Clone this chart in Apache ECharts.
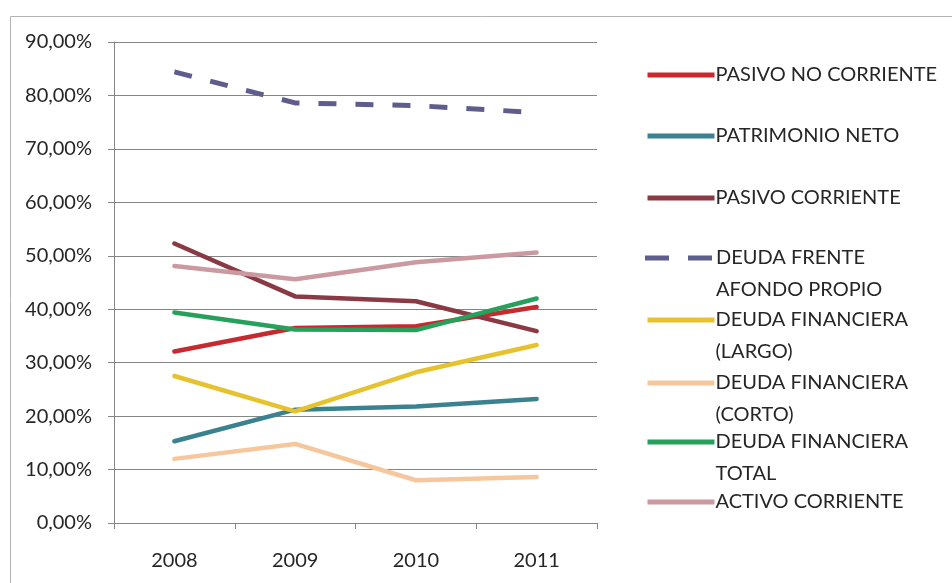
<!DOCTYPE html>
<html>
<head>
<meta charset="utf-8">
<script src="https://cdn.jsdelivr.net/npm/echarts@6/dist/echarts.min.js"></script>
<style>
  html, body { margin: 0; padding: 0; background: #fff; }
  #chart { width: 952px; height: 583px; }
</style>
</head>
<body>
<div id="chart"></div>
<script>
// data (percent)
const years = ["2008", "2009", "2010", "2011"];
const pasivoNoCorriente = [32.1, 36.5, 36.8, 40.4];
const patrimonioNeto = [15.3, 21.2, 21.8, 23.2];
const pasivoCorriente = [52.3, 42.4, 41.5, 35.9];
const deudaFrente = [84.4, 78.6, 78.1, 76.8];
const deudaLargo = [27.5, 20.9, 28.2, 33.3];
const deudaCorto = [12.0, 14.8, 8.0, 8.6];
const deudaTotal = [39.4, 36.2, 36.1, 42.0];
const activoCorriente = [48.1, 45.6, 48.8, 50.6];

const names = [
  "PASIVO NO CORRIENTE",
  "PATRIMONIO NETO",
  "PASIVO CORRIENTE",
  "DEUDA FRENTE\nAFONDO PROPIO",
  "DEUDA FINANCIERA\n(LARGO)",
  "DEUDA FINANCIERA\n(CORTO)",
  "DEUDA FINANCIERA\nTOTAL",
  "ACTIVO CORRIENTE"
];
const values = [pasivoNoCorriente, patrimonioNeto, pasivoCorriente, deudaFrente,
  deudaLargo, deudaCorto, deudaTotal, activoCorriente];
const colors = ["#C62A2F", "#3A8290", "#8A3A44", "#5E5D8C", "#E6C32E", "#F6C79C", "#26A05A", "#CB9AA0"];
const legendTops = [59, 120, 182, 210, 272, 335, 394, 486];

// two-dash legend mark for the dashed series
const dashIcon = "path://M0,0h24v5h-24z M43,0h24v5h-24z";

const font = "Lato, 'Open Sans', sans-serif";
const chart = echarts.init(document.getElementById("chart"));

const option = {
  animation: false,
  backgroundColor: "#fff",
  grid: { left: 114, right: 355, top: 42, bottom: 60 },
  graphic: [{
    type: "rect",
    left: 8, top: 14,
    shape: { width: 1000, height: 700 },
    style: { fill: "none", stroke: "#b4b4b4", lineWidth: 1 },
    silent: true
  }],
  legend: names.map((n, i) => ({
    orient: "vertical",
    left: 645,
    top: legendTops[i],
    padding: 0,
    itemWidth: 67,
    itemHeight: i === 3 ? 5 : 4,
    itemGap: 0,
    symbolKeepAspect: false,
    data: i === 3 ? [{ name: n, icon: dashIcon }] : [n],
    itemStyle: { opacity: i === 3 ? 1 : 0 },
    lineStyle: { width: 5, cap: "butt" },
    formatter: s => (s.indexOf("\n") >= 0 ? "\n" + s : s),
    textStyle: {
      fontFamily: font, fontSize: 20, color: "#262626", lineHeight: 32,
      padding: [0, 0, 0, i === 3 ? -1 : -4]
    }
  })),
  xAxis: {
    type: "category",
    data: years,
    boundaryGap: true,
    axisLine: { lineStyle: { color: "#868686", width: 1 } },
    axisTick: { show: true, interval: 0, length: 6, lineStyle: { color: "#868686" } },
    axisLabel: { fontFamily: font, fontSize: 20, color: "#262626", margin: 28 }
  },
  yAxis: {
    type: "value",
    min: 0, max: 90, interval: 10,
    axisLine: { show: true, lineStyle: { color: "#868686", width: 1 } },
    axisTick: { show: true, inside: false, length: 6, lineStyle: { color: "#868686" } },
    splitLine: { lineStyle: { color: "#868686", width: 1 } },
    axisLabel: {
      fontFamily: font, fontSize: 20, color: "#262626", margin: 22,
      formatter: v => v.toFixed(2).replace(".", ",") + "%"
    }
  },
  series: names.map((n, i) => ({
    name: n,
    type: "line",
    data: values[i],
    symbol: "none",
    color: colors[i],
    lineStyle: {
      color: colors[i],
      width: i === 3 ? 5 : 4.5,
      cap: i === 3 ? "butt" : "round",
      type: i === 3 ? [18, 19] : "solid"
    }
  }))
};

chart.setOption(option);
</script>
</body>
</html>
